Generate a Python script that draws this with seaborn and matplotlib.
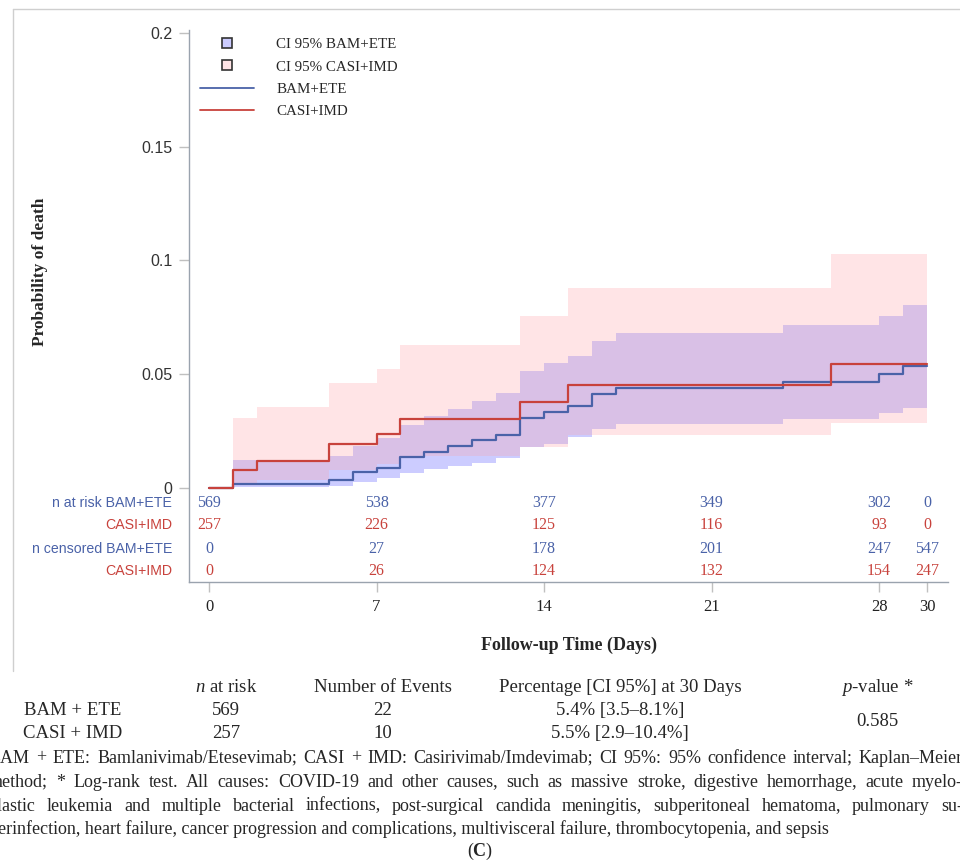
import numpy as np
import matplotlib
matplotlib.use("Agg")
import matplotlib.pyplot as plt
import seaborn as sns
from matplotlib.lines import Line2D

# Kaplan-Meier step values (cumulative probability of death)
bam_t = [0, 1, 5, 6, 7, 8, 9, 10, 11, 12, 13, 14, 15, 16, 17, 24, 28, 29]
bam_est = [0, .0018, .0036, .0072, .0090, .0135, .0160, .0184, .0209, .0233,
           .0306, .0332, .0360, .0412, .0438, .0466, .0501, .0536]
bam_lo = [0, .0005, .0009, .0028, .0045, .0065, .0082, .0097, .0111, .0130,
          .0180, .0193, .0225, .0260, .0282, .0303, .0328, .0353]
bam_hi = [0, .0125, .0141, .0186, .0220, .0277, .0316, .0348, .0382, .0416,
          .0515, .0548, .0580, .0647, .0680, .0716, .0757, .0804]

casi_t = [0, 1, 2, 5, 7, 8, 13, 15, 26]
casi_est = [0, .0078, .0117, .0195, .0237, .0302, .0376, .0453, .0546]
casi_lo = [0, .0020, .0036, .0079, .0105, .0141, .0182, .0234, .0287]
casi_hi = [0, .0309, .0357, .0460, .0523, .0628, .0755, .0881, .1030]
t_end = 30

# number at risk / censored table
risk_days = [0, 7, 14, 21, 28, 30]
risk_bam = [569, 538, 377, 349, 302, 0]
risk_casi = [257, 226, 125, 116, 93, 0]
cens_bam = [0, 27, 178, 201, 247, 547]
cens_casi = [0, 26, 124, 132, 154, 247]

# summary table
tbl_groups = ["BAM + ETE", "CASI + IMD"]
tbl_n = [569, 257]
tbl_events = [22, 10]
tbl_pct = ["5.4% [3.5–8.1%]", "5.5% [2.9–10.4%]"]
p_value = "0.585"

caption = [
    "BAM + ETE: Bamlanivimab/Etesevimab; CASI + IMD: Casirivimab/Imdevimab; CI 95%: 95% confidence interval; Kaplan–Meier",
    "method; * Log-rank test. All causes: COVID-19 and other causes, such as massive stroke, digestive hemorrhage, acute myelo-",
    "blastic leukemia and multiple bacterial infections, post-surgical candida meningitis, subperitoneal hematoma, pulmonary su-",
    "perinfection, heart failure, cancer progression and complications, multivisceral failure, thrombocytopenia, and sepsis",
]

BLUE = "#4a62a8"
RED = "#c8423c"
BLUE_BAND = "#ccccff"
RED_BAND = "#ffe4e6"
OVERLAP = "#d9c0e6"
SERIF = "Liberation Serif"
SANS = "Liberation Sans"

sns.set_style("white")
plt.rcParams["font.family"] = [SERIF, "DejaVu Serif"]
plt.rcParams["mathtext.fontset"] = "custom"
plt.rcParams["mathtext.rm"] = SERIF
plt.rcParams["mathtext.it"] = SERIF + ":italic"
plt.rcParams["mathtext.bf"] = SERIF + ":bold"

W, H = 960, 863
fig = plt.figure(figsize=(9.6, 8.63), dpi=100)


def fxy(x, y):
    return x / W, 1 - y / H


ax = fig.add_axes([189 / W, 1 - 582 / H, (948 - 189) / W, (582 - 30) / H])


def step_ext(t, v):
    return np.append(t, t_end), np.append(v, v[-1])


def at(t, v, grid):
    idx = np.searchsorted(t, grid, side="right") - 1
    return np.asarray(v)[idx]


# confidence bands: blue, red, and their overlap
grid = np.union1d(bam_t, casi_t)
gx = np.append(grid, t_end)
b_lo, b_hi = at(bam_t, bam_lo, grid), at(bam_t, bam_hi, grid)
c_lo, c_hi = at(casi_t, casi_lo, grid), at(casi_t, casi_hi, grid)
o_lo, o_hi = np.maximum(b_lo, c_lo), np.minimum(b_hi, c_hi)
ext = lambda a: np.append(a, a[-1])

ax.fill_between(gx, ext(b_lo), ext(b_hi), step="post", color=BLUE_BAND, lw=0)
ax.fill_between(gx, ext(c_lo), ext(c_hi), step="post", color=RED_BAND, lw=0)
ax.fill_between(gx, ext(o_lo), ext(np.maximum(o_hi, o_lo)), step="post",
                color=OVERLAP, lw=0)

bx, by = step_ext(bam_t, bam_est)
cx, cy = step_ext(casi_t, casi_est)
sns.lineplot(x=bx, y=by, drawstyle="steps-post", color=BLUE, lw=1.6, ax=ax)
sns.lineplot(x=cx, y=cy, drawstyle="steps-post", color=RED, lw=1.6, ax=ax)

ax.set_xlim(-20 / 23.933, 739 / 23.933)
ax.set_ylim(-94 / 2275, 458 / 2275)

for s in ["top", "right"]:
    ax.spines[s].set_visible(False)
for s in ["left", "bottom"]:
    ax.spines[s].set_color("#9aa3ae")
    ax.spines[s].set_linewidth(1.0)

ax.set_yticks([0, 0.05, 0.1, 0.15, 0.2])
ax.set_yticklabels(["0", "0.05", "0.1", "0.15", "0.2"], family=SANS,
                   fontsize=11.5, color="#333333")
ax.set_xticks(risk_days)
ax.set_xticklabels([str(d) for d in risk_days], fontsize=12, color="#222222")
ax.tick_params(axis="both", direction="out", length=7, width=1,
               color="#c0c0c0", pad=5, left=True, bottom=True)

ax.set_ylabel("Probability of death", fontsize=12.5, fontweight="bold")
ax.yaxis.set_label_coords((48 - 189) / 759, (582 - 272) / 552)
ax.set_xlabel("Follow-up Time (Days)", fontsize=13, fontweight="bold")
ax.xaxis.label.set_va("center")
ax.xaxis.set_label_coords((569 - 189) / 759, (582 - 645) / 552)

# at-risk / censored rows inside the axes
rows = [("n at risk BAM+ETE", risk_bam, BLUE), ("CASI+IMD", risk_casi, RED),
        ("n censored BAM+ETE", cens_bam, BLUE), ("CASI+IMD", cens_casi, RED)]
row_py = [503, 525, 549, 571]
for (lab, vals, col), py in zip(rows, row_py):
    yv = (488 - py) / 2275
    ax.text((172 - 209) / 23.933, yv, lab, ha="right", va="center",
            family=SANS, fontsize=10.2, color=col, clip_on=False)
    for d, v in zip(risk_days, vals):
        ax.text(d, yv, str(v), ha="center", va="center", fontsize=11.5,
                color=col)

# legend
handles = [
    Line2D([], [], ls="none", marker="s", ms=6.5, mfc=BLUE_BAND, mec="#333333", mew=1.2),
    Line2D([], [], ls="none", marker="s", ms=6.5, mfc=RED_BAND, mec="#333333", mew=1.2),
    Line2D([], [], color=BLUE, lw=1.3),
    Line2D([], [], color=RED, lw=1.3),
]
labels = ["CI 95% BAM+ETE", "CI 95% CASI+IMD", "BAM+ETE", "CASI+IMD"]
ax.legend(handles, labels, loc="upper left",
          bbox_to_anchor=(11 / 759, (582 - 38) / 552),
          frameon=False, fontsize=10.8, handlelength=3.6, handletextpad=1.5,
          labelspacing=0.58, borderaxespad=0, borderpad=0.0)

# outer frame
fig.add_artist(Line2D([13 / W, 13 / W], [1 - 9 / H, 1 - 671 / H], color="#cfcfcf", lw=1))
fig.add_artist(Line2D([13 / W, 1], [1 - 9 / H, 1 - 9 / H], color="#cfcfcf", lw=1))

# summary table
fs = 13.5
fig.text(*fxy(226, 687), r"$\mathit{n}$ at risk", ha="center", va="center", fontsize=fs)
fig.text(*fxy(383, 687), "Number of Events", ha="center", va="center", fontsize=fs)
fig.text(*fxy(620, 687), "Percentage [CI 95%] at 30 Days", ha="center", va="center", fontsize=fs)
fig.text(*fxy(877, 687), r"$\mathit{p}$-value *", ha="center", va="center", fontsize=fs)
for i, py in enumerate([710, 733]):
    fig.text(*fxy(73, py), tbl_groups[i], ha="center", va="center", fontsize=fs)
    fig.text(*fxy(226, py), str(tbl_n[i]), ha="center", va="center", fontsize=fs)
    fig.text(*fxy(383, py), str(tbl_events[i]), ha="center", va="center", fontsize=fs)
    fig.text(*fxy(620, py), tbl_pct[i], ha="center", va="center", fontsize=fs)
fig.text(*fxy(877, 721), p_value, ha="center", va="center", fontsize=fs)

# caption, justified like the source page (last line left-aligned)
cfs = 13.0
left, right = -11, 963
renderer = fig.canvas.get_renderer()
for k, (line, py) in enumerate(zip(caption, [758, 782, 806, 829])):
    if k == len(caption) - 1:
        fig.text(*fxy(left, py), line, ha="left", va="center", fontsize=cfs)
        continue
    words = line.split(" ")
    widths = []
    for w in words:
        t = fig.text(0, 0, w, fontsize=cfs)
        widths.append(t.get_window_extent(renderer).width)
        t.remove()
    gap = (right - left - sum(widths)) / (len(words) - 1)
    x = left
    for w, wd in zip(words, widths):
        fig.text(*fxy(x, py), w, ha="left", va="center", fontsize=cfs)
        x += wd + gap
fig.text(*fxy(480, 851), r"($\mathbf{C}$)", ha="center", va="center", fontsize=cfs)

fig.savefig("out.png", dpi=100)
